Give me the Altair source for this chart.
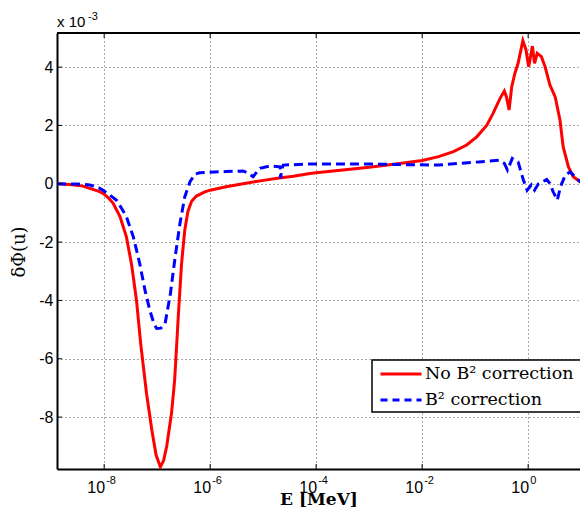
import altair as alt
import pandas as pd

# ---- data (E as log10 MeV, values in units of 1e-3) ----
red_logE = [-8.89, -8.6, -8.4, -8.27, -8.1, -8.02, -7.92, -7.83, -7.70, -7.58, -7.48, -7.39,
            -7.31, -7.20, -7.10, -7.02, -6.94, -6.88, -6.82, -6.73, -6.67, -6.60, -6.54, -6.48,
            -6.42, -6.35, -6.26, -6.1, -6.0, -5.7, -5.38, -5.06, -4.7, -4.43, -4.12, -4.0, -3.5,
            -3.0, -2.5, -2.0, -1.69, -1.41, -1.16, -0.97, -0.78, -0.66, -0.53, -0.45, -0.41,
            -0.36, -0.31, -0.25, -0.19, -0.10, -0.04, 0.01, 0.08, 0.12, 0.17, 0.25, 0.32, 0.41,
            0.51, 0.60, 0.66, 0.76, 0.85, 0.98, 1.13]
red_val = [0.0, -0.03, -0.08, -0.16, -0.26, -0.33, -0.48, -0.67, -1.13, -1.82, -2.8, -4.0,
           -5.5, -7.2, -8.45, -9.3, -9.71, -9.5, -9.0, -7.88, -6.73, -4.5, -2.75, -1.6,
           -0.95, -0.6, -0.42, -0.28, -0.22, -0.1, 0.0, 0.1, 0.2, 0.26, 0.35, 0.38, 0.47,
           0.57, 0.68, 0.8, 0.93, 1.1, 1.33, 1.61, 2.01, 2.42, 2.93, 3.18, 2.98,
           2.53, 3.33, 3.79, 4.13, 4.91, 4.59, 4.01, 4.72, 4.13, 4.47, 4.36, 4.01, 3.39,
           2.98, 2.19, 1.27, 0.58, 0.24, 0.07, 0.01]

blue_logE = [-8.89, -8.5, -8.27, -8.1, -8.02, -7.9, -7.77, -7.67, -7.58, -7.45, -7.33, -7.23,
             -7.14, -7.06, -7.01, -6.93, -6.85, -6.75, -6.66, -6.57, -6.48, -6.38, -6.29, -6.2,
             -6.07, -5.7, -5.38, -5.3, -5.19, -5.1, -5.06, -4.87, -4.68, -4.67, -4.65, -4.62,
             -4.12, -3.5, -3.0, -2.5, -2.0, -1.69, -1.31, -0.93, -0.55, -0.45, -0.39, -0.30,
             -0.19, -0.09, -0.02, 0.06, 0.12, 0.19, 0.35, 0.41, 0.47, 0.55, 0.61, 0.70, 0.79,
             0.89, 0.98, 1.13]
blue_val = [0.0, -0.01, -0.04, -0.14, -0.22, -0.38, -0.56, -0.85, -1.13, -1.82, -2.73, -3.65,
            -4.33, -4.8, -4.96, -4.95, -4.79, -3.76, -2.5, -1.36, -0.45, 0.07, 0.33, 0.38,
            0.39, 0.42, 0.44, 0.38, 0.24, 0.45, 0.53, 0.61, 0.58, 0.19, 0.5, 0.64,
            0.68, 0.68, 0.68, 0.66, 0.65, 0.64, 0.7, 0.75, 0.81, 0.7, 0.47, 0.87,
            0.75, 0.13, -0.22, -0.04, -0.22, -0.01, 0.15, 0.01, -0.27, -0.56, -0.1, 0.30, 0.41,
            0.24, 0.07, 0.01]

x_tick_exps = [-8, -6, -4, -2, 0]
y_ticks = [-8, -6, -4, -2, 0, 2, 4]
series_names = ["No B\u00b2 correction", "B\u00b2 correction"]
colors = ["#ff0000", "#0000ff"]

W, H = 523, 436
x_dom = [10 ** -8.89, 10 ** 0.978]
y_dom = [-9.78, 5.17]

red_df = pd.DataFrame({"E": [10 ** v for v in red_logE], "d": red_val})
blue_df = pd.DataFrame({"E": [10 ** v for v in blue_logE], "d": blue_val})
xt_df = pd.DataFrame({"E": [10.0 ** e for e in x_tick_exps],
                      "base": ["10"] * len(x_tick_exps),
                      "exp": [str(e) for e in x_tick_exps]})
yt_df = pd.DataFrame({"v": y_ticks})

xs = alt.Scale(type="log", domain=x_dom, nice=False)
ys = alt.Scale(domain=y_dom, nice=False, zero=False)

SANS = "Liberation Sans"
SERIF = "DejaVu Serif"

x_axis = alt.Axis(values=[10.0 ** e for e in x_tick_exps], labels=False, ticks=False,
                  grid=True, gridDash=[1, 3], gridColor="#555", gridWidth=1,
                  domainColor="black", domainWidth=2, title=None)
y_axis = alt.Axis(values=y_ticks, labelExpr="'' + datum.value", labelFont=SANS,
                  labelFontSize=16, labelColor="black", labelPadding=4, ticks=False,
                  grid=True, gridDash=[1, 3], gridColor="#555", gridWidth=1,
                  domainColor="black", domainWidth=2, title=None)

base_red = alt.Chart(red_df).mark_line(color=colors[0], strokeWidth=3, clip=True).encode(
    x=alt.X("E:Q", scale=xs, axis=x_axis),
    y=alt.Y("d:Q", scale=ys, axis=y_axis),
)
base_blue = alt.Chart(blue_df).mark_line(color=colors[1], strokeWidth=3, strokeDash=[9, 5],
                                         clip=True).encode(
    x=alt.X("E:Q", scale=xs),
    y=alt.Y("d:Q", scale=ys),
)

# inward ticks
xt_bot = alt.Chart(xt_df).mark_rule(color="black", strokeWidth=1).encode(
    x=alt.X("E:Q", scale=xs), y=alt.value(H), y2=alt.value(H - 5))
xt_top = alt.Chart(xt_df).mark_rule(color="black", strokeWidth=1).encode(
    x=alt.X("E:Q", scale=xs), y=alt.value(0), y2=alt.value(5))
yt_left = alt.Chart(yt_df).mark_rule(color="black", strokeWidth=1).encode(
    y=alt.Y("v:Q", scale=ys), x=alt.value(0), x2=alt.value(5))
top_line = alt.Chart(pd.DataFrame({"a": [0]})).mark_rule(color="black", strokeWidth=2).encode(
    x=alt.value(0), x2=alt.value(W + 5), y=alt.value(0))

# x tick labels 10^n
xl_base = alt.Chart(xt_df).mark_text(font=SANS, fontSize=16, align="right",
                                     baseline="alphabetic", dx=1, color="black").encode(
    x=alt.X("E:Q", scale=xs), y=alt.value(H + 24), text="base:N")
xl_exp = alt.Chart(xt_df).mark_text(font=SANS, fontSize=11, align="left",
                                    baseline="alphabetic", dx=2, color="black").encode(
    x=alt.X("E:Q", scale=xs), y=alt.value(H + 15), text="exp:N")

one = pd.DataFrame({"t": ["x 10"], "e": ["-3"], "xt": ["E [MeV]"], "yt": ["\u03b4\u03a6(u)"]})
mult = alt.Chart(one).mark_text(font=SANS, fontSize=15, align="left", baseline="alphabetic",
                                color="black").encode(x=alt.value(0), y=alt.value(-6), text="t:N")
mult_e = alt.Chart(one).mark_text(font=SANS, fontSize=11, align="left", baseline="alphabetic",
                                  color="black").encode(x=alt.value(31), y=alt.value(-13), text="e:N")
xtitle = alt.Chart(one).mark_text(font=SERIF, fontSize=17, fontWeight="bold", align="center",
                                  baseline="alphabetic", color="black").encode(
    x=alt.value(262), y=alt.value(H + 36), text="xt:N")
ytitle = alt.Chart(one).mark_text(font=SERIF, fontSize=18, align="center", baseline="middle",
                                  angle=270, color="black").encode(
    x=alt.value(-37), y=alt.value(H / 2 + 1), text="yt:N")

# legend (manual)
lx, ly = 315, 327
leg_df = pd.DataFrame({"name": series_names, "row": [0, 1]})
leg_box = alt.Chart(pd.DataFrame({"a": [0]})).mark_rect(fill="white", stroke="black",
                                                          strokeWidth=1.5).encode(
    x=alt.value(lx), x2=alt.value(W + 20), y=alt.value(ly), y2=alt.value(ly + 52))
leg_red = alt.Chart(pd.DataFrame({"a": [0]})).mark_rule(color=colors[0], strokeWidth=3).encode(
    x=alt.value(lx + 8.5), x2=alt.value(lx + 49.5), y=alt.value(ly + 14))
leg_blue = alt.Chart(pd.DataFrame({"a": [0]})).mark_rule(color=colors[1], strokeWidth=3,
                                                         strokeDash=[7, 5]).encode(
    x=alt.value(lx + 8.5), x2=alt.value(lx + 49.5), y=alt.value(ly + 40))
leg_t1 = alt.Chart(leg_df.iloc[[0]]).mark_text(font=SERIF, fontSize=17.5, align="left",
                                                baseline="middle", color="black").encode(
    x=alt.value(lx + 53), y=alt.value(ly + 14), text="name:N")
leg_t2 = alt.Chart(leg_df.iloc[[1]]).mark_text(font=SERIF, fontSize=17.5, align="left",
                                                baseline="middle", color="black").encode(
    x=alt.value(lx + 53), y=alt.value(ly + 40), text="name:N")

chart = alt.layer(
    base_red, base_blue, xt_bot, xt_top, yt_left, top_line, xl_base, xl_exp,
    mult, mult_e, xtitle, ytitle, leg_box, leg_red, leg_blue, leg_t1, leg_t2,
).properties(
    width=W, height=H,
    autosize=alt.AutoSizeParams(type="none"),
    padding={"left": 49, "top": 25, "right": 0, "bottom": 41},
    background="white",
).configure_view(stroke=None)

chart.save("out.html", embed_options={"renderer": "svg", "actions": False})
